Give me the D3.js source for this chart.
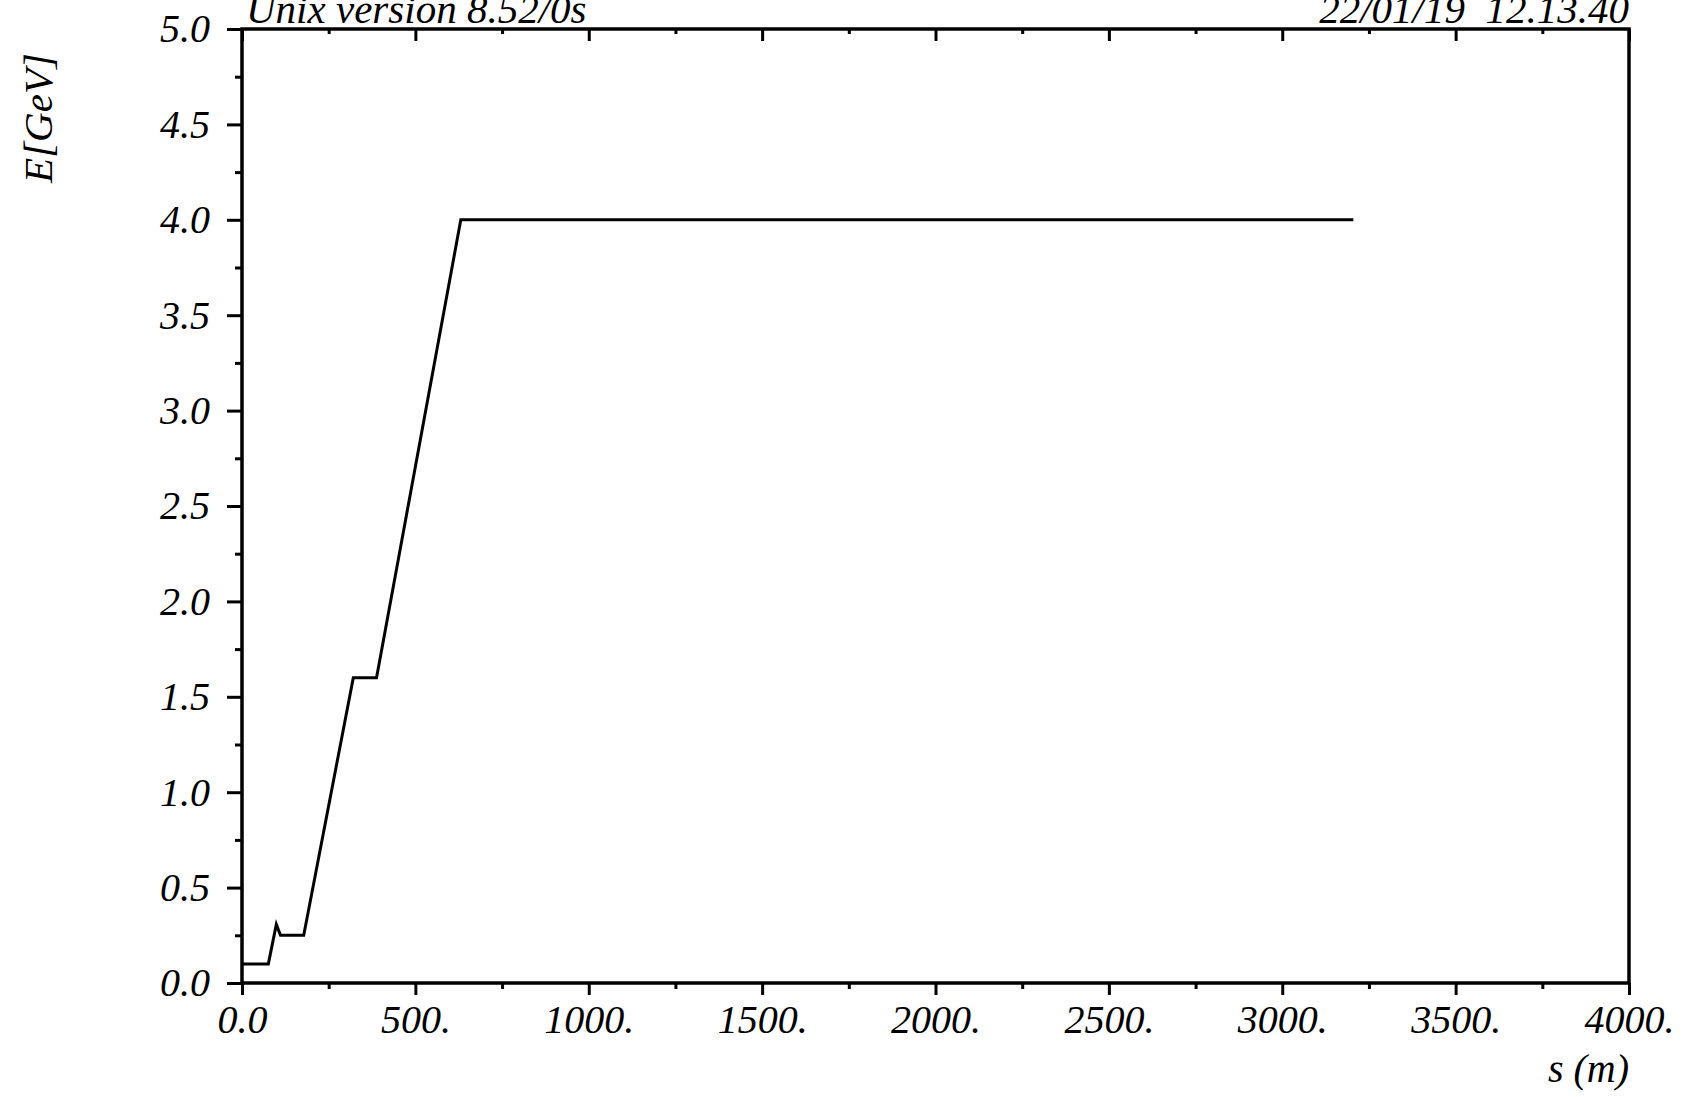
<!DOCTYPE html>
<html>
<head>
<meta charset="utf-8">
<script src="https://cdn.jsdelivr.net/npm/d3@7"></script>
<style>
  body { margin: 0; background: #fff; }
  text { font-family: "Liberation Serif", "Times New Roman", serif; font-style: italic; fill: #000; }
</style>
</head>
<body>
<div class="chart"></div>
<script>
// energy along the line
var sValues = [0, 76, 99, 111, 178, 321, 388, 631, 3205];
var eValues = [0.1, 0.1, 0.307, 0.25, 0.25, 1.6, 1.6, 4.0, 4.0];

var xMajor = [0, 500, 1000, 1500, 2000, 2500, 3000, 3500, 4000];
var xMajorLabels = ["0.0", "500.", "1000.", "1500.", "2000.", "2500.", "3000.", "3500.", "4000."];
var yMajor = [0, 0.5, 1, 1.5, 2, 2.5, 3, 3.5, 4, 4.5, 5];
var yMajorLabels = ["0.0", "0.5", "1.0", "1.5", "2.0", "2.5", "3.0", "3.5", "4.0", "4.5", "5.0"];

var headerLeft = "Unix version 8.52/0s";
var headerRight = "22/01/19  12.13.40";
var xTitle = "s (m)";
var yTitle = "E[GeV]";

var svgWidth = 1685, svgHeight = 1097;
var margin = { top: 29, right: 56, bottom: 114, left: 242 };
var width = svgWidth - margin.left - margin.right;
var height = svgHeight - margin.top - margin.bottom;

var svg = d3.select(".chart").append("svg")
  .attr("width", svgWidth)
  .attr("height", svgHeight);

var chartGroup = svg.append("g")
  .attr("transform", `translate(${margin.left}, ${margin.top})`);

var x = d3.scaleLinear().domain([0, 4000]).range([0, width]);
var y = d3.scaleLinear().domain([0, 5]).range([height, 0]);

var xMinor = d3.range(250, 4000, 500);
var yMinor = d3.range(0.25, 5, 0.5);

function styleAxis(g) {
  g.select(".domain").remove();
  g.selectAll(".tick line").attr("stroke", "#000").attr("stroke-width", 3);
  g.selectAll(".tick text").style("font-size", "40px").attr("fill", "#000");
}

// bottom axis
chartGroup.append("g")
  .attr("transform", `translate(0,${height})`)
  .call(d3.axisBottom(x).tickValues(xMinor).tickSize(6).tickFormat(""))
  .call(styleAxis);
chartGroup.append("g")
  .attr("transform", `translate(0,${height})`)
  .call(d3.axisBottom(x).tickValues(xMajor).tickSize(12).tickPadding(10)
    .tickFormat((d, i) => xMajorLabels[i]))
  .call(styleAxis);

// top axis, ticks inward
chartGroup.append("g")
  .call(d3.axisTop(x).tickValues(xMinor).tickSize(-5).tickFormat(""))
  .call(styleAxis);
chartGroup.append("g")
  .call(d3.axisTop(x).tickValues(xMajor).tickSize(-12).tickFormat(""))
  .call(styleAxis);

// left axis
chartGroup.append("g")
  .call(d3.axisLeft(y).tickValues(yMinor).tickSize(7).tickFormat(""))
  .call(styleAxis);
chartGroup.append("g")
  .call(d3.axisLeft(y).tickValues(yMajor).tickSize(15).tickPadding(17)
    .tickFormat((d, i) => yMajorLabels[i]))
  .call(styleAxis);

// frame
chartGroup.append("rect")
  .attr("x", 0).attr("y", 0)
  .attr("width", width).attr("height", height)
  .attr("fill", "none")
  .attr("stroke", "#000")
  .attr("stroke-width", 3.5);

// data line
var line = d3.line()
  .x((d, i) => x(sValues[i]))
  .y((d, i) => y(eValues[i]));

chartGroup.append("path")
  .datum(sValues)
  .attr("d", line)
  .attr("fill", "none")
  .attr("stroke", "#000")
  .attr("stroke-width", 3)
  .attr("stroke-linejoin", "miter");

// texts
chartGroup.append("text")
  .attr("x", 4).attr("y", -6)
  .style("font-size", "41px")
  .text(headerLeft);

chartGroup.append("text")
  .attr("x", width).attr("y", -6)
  .attr("text-anchor", "end")
  .style("font-size", "41px")
  .style("white-space", "pre")
  .text(headerRight);

chartGroup.append("text")
  .attr("x", width).attr("y", height + 99)
  .attr("text-anchor", "end")
  .style("font-size", "40px")
  .text(xTitle);

svg.append("text")
  .attr("transform", `translate(52, 118) rotate(-90)`)
  .attr("text-anchor", "middle")
  .style("font-size", "41px")
  .text(yTitle);
</script>
</body>
</html>
